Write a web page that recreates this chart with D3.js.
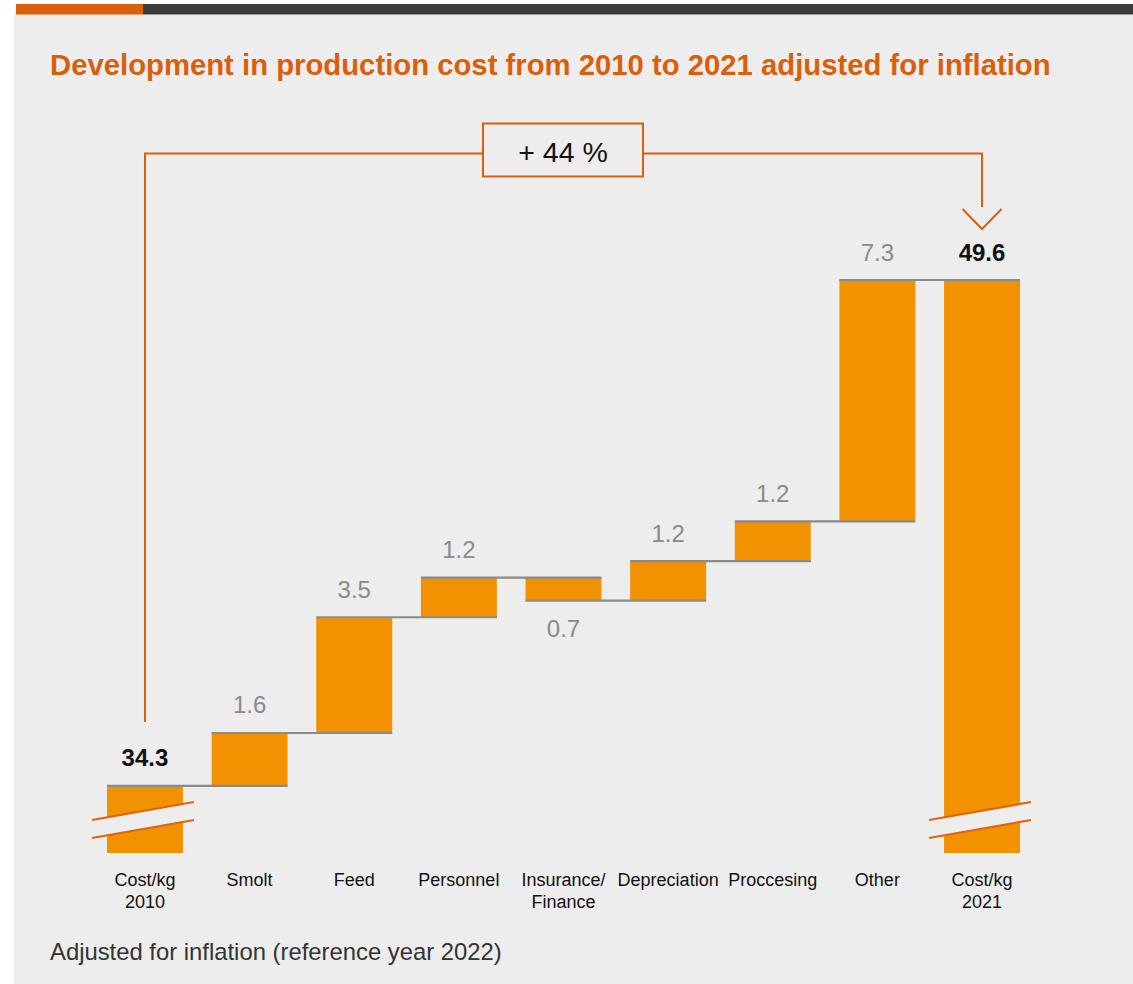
<!DOCTYPE html>
<html>
<head>
<meta charset="utf-8">
<script src="https://cdn.jsdelivr.net/npm/d3@7"></script>
<style>
  html, body { margin: 0; padding: 0; background: #ffffff; }
  svg { display: block; }
  text { font-family: Helvetica, Arial, "Liberation Sans", sans-serif; }
</style>
</head>
<body>
<svg id="chart" width="1133" height="984"></svg>
<script>
// ---- Data ----
const categories = [
  ["Cost/kg", "2010"], ["Smolt"], ["Feed"], ["Personnel"],
  ["Insurance/", "Finance"], ["Depreciation"], ["Proccesing"], ["Other"],
  ["Cost/kg", "2021"]
];
const values = [34.3, 1.6, 3.5, 1.2, -0.7, 1.2, 1.2, 7.3, 49.6];
const valueLabels = ["34.3", "1.6", "3.5", "1.2", "0.7", "1.2", "1.2", "7.3", "49.6"];
const barTypes = ["total", "step", "step", "step", "step", "step", "step", "step", "total"];
const changeLabel = "+ 44 %";
const titleText = "Development in production cost from 2010 to 2021 adjusted for inflation";
const footnoteText = "Adjusted for inflation (reference year 2022)";
const axisFloor = 32.27; // value at the (broken) bottom of the total bars

// ---- Colours ----
const C = {
  bg: "#ededed", orange: "#f39200", dark: "#d95f0b", bar2: "#3c3c3b",
  grey: "#8a8a8a", text: "#111111", breakLine: "#df640d"
};

const svg = d3.select("#chart");

// page chrome
svg.append("rect").attr("x", 14).attr("y", 14).attr("width", 1119).attr("height", 970).attr("fill", C.bg);
svg.append("rect").attr("x", 16).attr("y", 4).attr("width", 127).attr("height", 10.5).attr("fill", C.dark);
svg.append("rect").attr("x", 143).attr("y", 4).attr("width", 990).attr("height", 10.5).attr("fill", C.bar2);

function fitText(sel, targetWidth, baseSize) {
  sel.attr("font-size", baseSize);
  const w = sel.node().getComputedTextLength();
  if (w > 0) sel.attr("font-size", baseSize * targetWidth / w);
}

// title
const title = svg.append("text").attr("x", 50).attr("y", 75)
  .attr("fill", C.dark).attr("font-weight", "bold").text(titleText);
fitText(title, 1001, 27);

// footnote
const foot = svg.append("text").attr("x", 50).attr("y", 960)
  .attr("fill", "#333333").text(footnoteText);
fitText(foot, 452, 20);

// ---- Scales ----
const x = d3.scaleBand().domain(d3.range(categories.length))
  .range([107, 1020]).paddingInner(0.274).paddingOuter(0);
const y = d3.scaleLinear().domain([axisFloor, 49.6]).range([853, 280]);

// compute waterfall
const bars = [];
let cum = 0;
values.forEach((v, i) => {
  if (barTypes[i] === "total") {
    bars.push({ i, start: axisFloor, end: v, level: v, type: "total" });
    cum = v;
  } else {
    const s = cum; cum = +(cum + v).toFixed(3);
    bars.push({ i, start: s, end: cum, level: cum, type: "step", neg: v < 0 });
  }
});

const bw = x.bandwidth();

// bars
svg.append("g").selectAll("rect").data(bars).join("rect")
  .attr("x", d => x(d.i))
  .attr("width", bw)
  .attr("y", d => y(Math.max(d.start, d.end)))
  .attr("height", d => Math.abs(y(d.start) - y(d.end)))
  .attr("fill", C.orange);

// connector lines
const conn = bars.slice(0, -1).map((d, k) => ({ x1: x(d.i), x2: x(bars[k + 1].i) + bw, v: d.level }));
svg.append("g").selectAll("line").data(conn).join("line")
  .attr("x1", d => d.x1).attr("x2", d => d.x2)
  .attr("y1", d => y(d.v)).attr("y2", d => y(d.v))
  .attr("stroke", C.grey).attr("stroke-width", 2.2);

// break marks on totals
const brk = svg.append("g");
bars.filter(d => d.type === "total").forEach(d => {
  const x0 = x(d.i) - 15, x1 = x(d.i) + bw + 11, b = y(axisFloor);
  brk.append("polygon")
    .attr("points", [[x0, b - 33], [x1, b - 51], [x1, b - 33], [x0, b - 15]].map(p => p.join(",")).join(" "))
    .attr("fill", C.bg);
  [[b - 33, b - 51], [b - 15, b - 33]].forEach(([ya, yb]) => {
    brk.append("line").attr("x1", x0).attr("x2", x1).attr("y1", ya).attr("y2", yb)
      .attr("stroke", C.breakLine).attr("stroke-width", 2.2);
  });
});

// value labels
svg.append("g").selectAll("text").data(bars).join("text")
  .attr("x", d => x(d.i) + bw / 2)
  .attr("y", d => d.neg ? y(d.end) + 36 : y(Math.max(d.start, d.end)) - 19.5)
  .attr("text-anchor", "middle")
  .attr("font-size", 24)
  .attr("font-weight", d => d.type === "total" ? "bold" : "normal")
  .attr("fill", d => d.type === "total" ? C.text : C.grey)
  .text((d, k) => valueLabels[k]);

// category labels
const cat = svg.append("g").selectAll("text").data(categories).join("text")
  .attr("x", (d, i) => x(i) + bw / 2)
  .attr("y", 886)
  .attr("text-anchor", "middle")
  .attr("font-size", 18)
  .attr("fill", C.text);
cat.selectAll("tspan").data(d => d).join("tspan")
  .attr("x", function () { return d3.select(this.parentNode).attr("x"); })
  .attr("dy", (d, j) => j === 0 ? 0 : 21.5)
  .text(d => d);

// bracket with change label
const xa = x(0) + bw / 2, xb = x(8) + bw / 2;
const boxX0 = 483, boxX1 = 643, boxY0 = 123.5, boxY1 = 176.5, lineY = 153.5;
const br = svg.append("g").attr("fill", "none").attr("stroke", C.dark).attr("stroke-width", 2);
br.append("path").attr("d", `M${xa},722 V${lineY} H${boxX0}`);
br.append("path").attr("d", `M${boxX1},${lineY} H${xb} V207`);
br.append("path").attr("d", `M${xb - 19.5},209 L${xb},229 L${xb + 19.5},209`);
br.append("rect").attr("x", boxX0).attr("y", boxY0).attr("width", boxX1 - boxX0).attr("height", boxY1 - boxY0)
  .attr("fill", C.bg);
svg.append("text").attr("x", (boxX0 + boxX1) / 2).attr("y", 161.5)
  .attr("text-anchor", "middle").attr("font-size", 28.5).attr("fill", C.text).text(changeLabel);
</script>
</body>
</html>
